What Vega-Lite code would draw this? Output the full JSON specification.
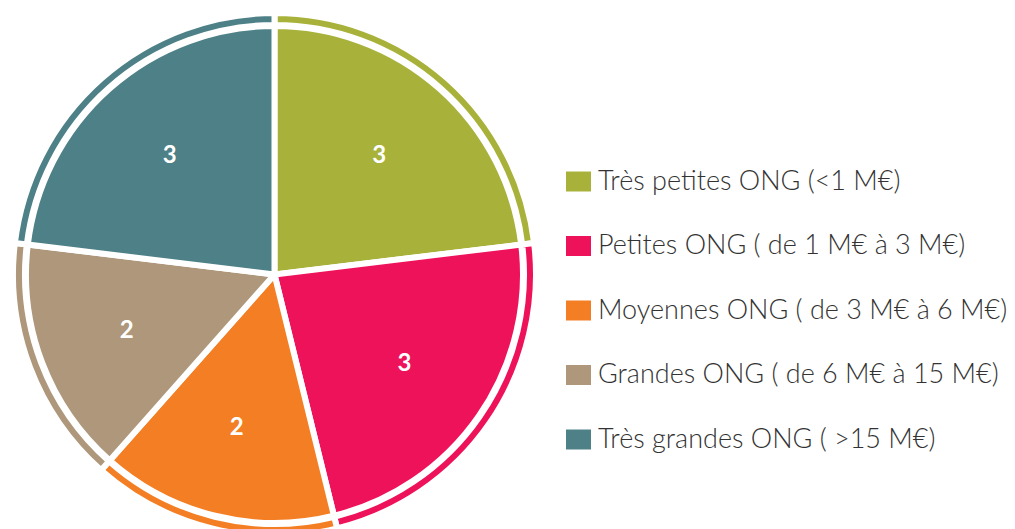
{
  "$schema": "https://vega.github.io/schema/vega-lite/v6.json",
  "width": 549,
  "height": 529,
  "autosize": "none",
  "padding": {"left": 0, "top": 0, "right": 466, "bottom": 0},
  "background": "white",
  "config": {"view": {"stroke": null}},
  "data": {
    "values": [
      {"categorie": "Très petites ONG (<1 M€)", "nombre": 3, "ordre": 1},
      {"categorie": "Petites ONG ( de 1 M€ à 3 M€)", "nombre": 3, "ordre": 2},
      {"categorie": "Moyennes ONG ( de 3 M€ à 6 M€)", "nombre": 2, "ordre": 3},
      {"categorie": "Grandes ONG ( de 6 M€ à 15 M€)", "nombre": 2, "ordre": 4},
      {"categorie": "Très grandes ONG ( >15 M€)", "nombre": 3, "ordre": 5}
    ]
  },
  "encoding": {
    "theta": {"field": "nombre", "type": "quantitative", "stack": true},
    "order": {"field": "ordre", "type": "quantitative"},
    "color": {
      "field": "categorie",
      "type": "nominal",
      "scale": {
        "domain": ["Très petites ONG (<1 M€)", "Petites ONG ( de 1 M€ à 3 M€)", "Moyennes ONG ( de 3 M€ à 6 M€)", "Grandes ONG ( de 6 M€ à 15 M€)", "Très grandes ONG ( >15 M€)"],
        "range": ["#A8B23A", "#EE125A", "#F37E24", "#AE977A", "#4E8087"]
      },
      "legend": {
        "title": null,
        "orient": "none",
        "legendX": 565,
        "legendY": 168,
        "padding": 0,
        "symbolType": "M-1.25,-1L1.25,-1L1.25,1L-1.25,1Z",
        "symbolSize": 400,
        "symbolStrokeWidth": 0,
        "symbolOpacity": 1,
        "labelFont": "Lato",
        "labelFontSize": 27,
        "labelFontWeight": 300,
        "labelColor": "#333333",
        "labelOffset": 6,
        "labelLimit": 500,
        "rowPadding": 36.5
      }
    }
  },
  "layer": [
    {
      "mark": {"type": "arc", "radius": 248.5, "stroke": "white", "strokeWidth": 6, "yOffset": 10}
    },
    {
      "mark": {"type": "arc", "radius": 261.5, "radius2": 249.5, "stroke": "white", "strokeWidth": 6, "yOffset": 10}
    },
    {
      "mark": {"type": "text", "radius": 158, "yOffset": 10, "font": "Lato", "fontSize": 24, "fontWeight": "bold", "fill": "white"},
      "encoding": {
        "text": {"field": "nombre", "type": "quantitative"},
        "color": {"value": "white"}
      }
    }
  ]
}
